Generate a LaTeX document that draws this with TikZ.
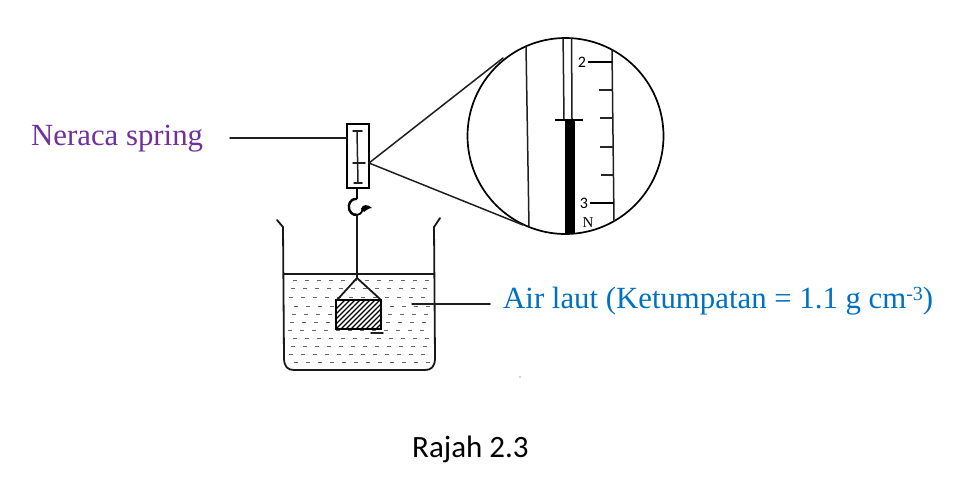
\documentclass[tikz,border=0pt]{standalone}
\usepackage{fontspec}
\setmainfont{Liberation Serif}
\newfontfamily\capfont{Carlito}
\usetikzlibrary{calc}
\definecolor{purp}{HTML}{7030A0}
\definecolor{blu}{HTML}{0070C0}
\tikzset{
  x=1pt,y=-1pt,
  ink/.style={draw=black!90,line width=1.8pt,line cap=round,line join=round},
  thin ink/.style={draw=black!88,line width=1.5pt,line cap=round},
  lbl/.style={inner sep=0pt,anchor=base west},
  tick/.style={draw=black!85,line width=1.2pt},
  major tick/.style={draw=black,line width=2pt},
  water/.style={draw=black!60,line width=.9pt},
}
\begin{document}
\begin{tikzpicture}
\useasboundingbox (0,0) rectangle (957,493);
% labels
\node[lbl,text=purp,font=\fontsize{30.8}{34}\selectfont] (neraca) at (31,145) {Neraca spring};
\node[lbl,text=blu,font=\fontsize{30.8}{34}\selectfont] (air) at (503,308) {Air laut (Ketumpatan = 1.1 g cm\raisebox{8pt}{\fontsize{20}{20}\selectfont -3})};
\node[lbl,font=\capfont\fontsize{31}{34}\selectfont] (rajah) at (412,457) {Rajah 2.3};
% beaker water
\foreach \y [count=\i] in {280,288,297,306,314,322,330,338,346,354,362}{
  \foreach \x in {288,300,...,430}{
    \pgfmathsetmacro{\dx}{mod(\i*5,7)}
    \draw[water] (\x+\dx,\y) -- ++(3.5,0);
  }
}
% beaker
\draw[ink] (277,220) -- (283,227) -- (284,358) .. controls (284,367) and (288,370) .. (294,370)
  -- (425,370) .. controls (431,370) and (435,367) .. (435,358) -- (434,227) -- (440,218);
\draw[ink] (284,274) -- (434,274);
% block
\fill[white] (336,300) rectangle (381,329);
\begin{scope}
  \clip (336,300) rectangle (381,329);
  \foreach \k in {0,5,...,85}{
    \draw[black,line width=1.2pt] (330+\k-20,335) -- ++(40,-40);
  }
\end{scope}
\node[draw=black,line width=2.2pt,minimum width=45pt,minimum height=29pt,inner sep=0pt] (block) at (358.5,314.5) {};
\coordinate (apex) at (357,278);
\draw[ink] (apex) -- (337,300);
\draw[ink] (apex) -- (380,299);
\draw[thin ink] (371,333) -- (383,333);
% spring balance
\node[draw=black,line width=1.6pt,minimum width=22pt,minimum height=64pt,inner sep=0pt] (balance) at (358,156) {};
\draw[thin ink] (357,131) -- (358,183);
\draw[thin ink] (353,131) -- (362,131);
\draw[thin ink] (354,183) -- (362,183);
\draw[thin ink] (353,163) -- (365,163);
% hook and string
\coordinate (hooktop) at (357,199);
\coordinate (hookbot) at (357,215);
\draw[black,line width=2.6pt] (balance.south) ++(-1,0) -- (hooktop);
\draw[black,line width=2.4pt] (hooktop) arc[start angle=280,end angle=80,x radius=7,y radius=8];
\draw[black,line width=1.8pt] (hookbot) .. controls (362,214) and (363,210) .. (362,208);
\fill[black] (361,209) .. controls (362,204) and (368,204) .. (372,208) .. controls (368,208) and (366,211) .. (364,212) -- cycle;
\draw[ink] (hookbot) -- (apex);
% pointers
\coordinate (a) at (230,138);
\draw[thin ink] (a) -- (balance.west |- a);
\coordinate (b) at (490,304);
\coordinate (c) at (412,304);
\draw[thin ink] (c) -- (b);
% magnifier
\node[circle,draw=black,line width=1.7pt,minimum size=196pt,inner sep=0pt] (lens) at (565.5,136) {};
\coordinate (tip) at (369,163);
\draw[thin ink] (tip) -- (503,58);
\draw[thin ink] (tip) -- (523,225);
\begin{scope}
  \clip (565.5,136) circle (98);
  \fill[black] (564.5,120) rectangle (575,240);
  \draw[thin ink] (563,30) -- (564,120);
  \draw[thin ink] (571.5,30) -- (572,120);
\end{scope}
\draw[thin ink] (526,46) -- (529,227);
\draw[black,line width=1.8pt] (555,120) -- (583,120);
\draw[thin ink] (612,50) -- (614,221);
\draw[major tick] (588,62) -- (612,62);
\draw[tick] (599,90) -- (612,90);
\draw[tick] (600,118) -- (613,118);
\draw[tick] (600,147) -- (613,147);
\draw[tick] (601,175) -- (613,175);
\draw[major tick] (590,203) -- (614,203);
\node[font=\capfont\fontsize{16}{16}\selectfont,inner sep=0pt] (two) at (582,62) {2};
\node[font=\capfont\fontsize{16}{16}\selectfont,inner sep=0pt] (three) at (584,203) {3};
\node[font=\fontsize{15}{16}\selectfont,inner sep=0pt] (n) at (588,223) {N};
\fill[black!70] (520,377) circle (.7);
\end{tikzpicture}
\end{document}
